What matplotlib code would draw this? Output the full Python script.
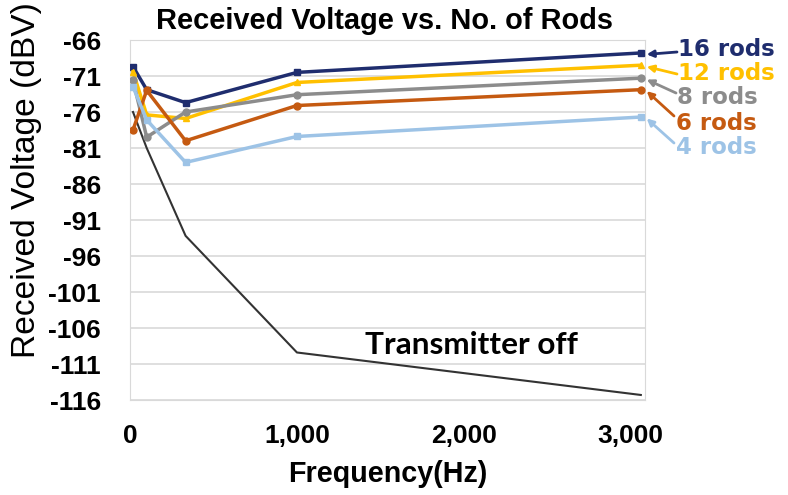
import numpy as np
import matplotlib.pyplot as plt
from matplotlib.ticker import FuncFormatter

plt.rcParams['axes.unicode_minus'] = False

# frequencies (Hz) of the measured points
freq = [18, 100, 333, 1000, 3060]

# received voltage (dBV) per number of rods
rods_16 = [-69.7, -72.9, -74.7, -70.5, -67.8]
rods_12 = [-70.4, -76.4, -76.9, -71.9, -69.5]
rods_8 = [-71.6, -79.5, -76.0, -73.6, -71.3]
rods_6 = [-78.5, -73.0, -80.0, -75.1, -72.9]
rods_4 = [-72.5, -77.1, -83.0, -79.4, -76.7]
tx_off = [-76.0, -81.0, -93.2, -109.4, -115.3]

series_names = ['16 rods', '12 rods', '8 rods', '6 rods', '4 rods']
series_vals = [rods_16, rods_12, rods_8, rods_6, rods_4]
colors = ['#1f2d6e', '#ffc000', '#8c8c8c', '#c55a11', '#9dc3e6']
markers = ['s', '^', 'o', 'o', 's']

yticks = np.arange(-116, -65, 5)
xticks = [0, 1000, 2000, 3000]

W, H = 788, 495
fig = plt.figure(figsize=(W / 100, H / 100), dpi=100)
ax = fig.add_axes([130 / W, 1 - 400 / H, 515 / W, 360 / H])


def fpos(x, y):
    # pixel position (from top-left) -> figure fraction
    return x / W, 1 - y / H


def fit(t, target, dim='w'):
    # scale font so the rendered text spans target pixels
    r = fig.canvas.get_renderer()
    bb = t.get_window_extent(r)
    cur = bb.width if dim == 'w' else bb.height
    t.set_fontsize(t.get_fontsize() * target / cur)


ax.plot(freq, tx_off, color='#333333', lw=1.5, zorder=2)
for name, vals, c, m in zip(series_names, series_vals, colors, markers):
    ax.plot(freq, vals, color=c, lw=2.5, marker=m, markersize=5, zorder=3)

ax.set_xlim(0, 3085)
ax.set_ylim(-116, -66)
ax.set_yticks(yticks)
ax.set_xticks(xticks)
ax.xaxis.set_major_formatter(FuncFormatter(lambda v, p: f'{int(v):,}'))
ax.yaxis.grid(True, color='#d9d9d9', lw=1.2)
ax.set_axisbelow(True)
for s in ax.spines.values():
    s.set_color('#d9d9d9')
ax.tick_params(axis='y', length=0, labelsize=19, pad=21)
ax.tick_params(axis='x', length=0, labelsize=19, pad=17)
for lbl in ax.get_xticklabels() + ax.get_yticklabels():
    lbl.set_fontweight('bold')
    lbl.set_family('Liberation Sans')

title = fig.text(*fpos(384, 21), 'Received Voltage vs. No. of Rods', fontsize=20,
                 fontweight='bold', family='Liberation Sans', ha='center', va='center')
xlab = fig.text(*fpos(388, 474), 'Frequency(Hz)', fontsize=20, fontweight='bold',
                family='Liberation Sans', ha='center', va='center')
ylab = fig.text(*fpos(27, 180), 'Received Voltage (dBV)', fontsize=19, rotation=90,
                family='Liberation Sans', ha='center', va='center')
txoff = fig.text(*fpos(471, 345), 'Transmitter off', fontsize=18, fontweight='bold',
                 family='Lato', ha='center', va='center')
fit(title, 458)
fit(xlab, 200)
fit(ylab, 356, 'h')
fit(txoff, 213)

# right-side labels with arrows
label_pos = [(678, 49), (678, 73), (677, 98), (676, 123), (676, 147)]
tail_pos = [(677, 52), (677, 74), (676, 93), (674, 116), (674, 143)]
for name, vals, c, lp, tp in zip(series_names, series_vals, colors, label_pos, tail_pos):
    fig.text(*fpos(*lp), name, color=c, fontsize=16.5, fontweight='bold',
             family='DejaVu Sans', ha='left', va='center')
    ax.annotate('', xy=(freq[-1] + 35, vals[-1] - 0.2), xycoords='data',
                xytext=fpos(*tp), textcoords='figure fraction', annotation_clip=False,
                arrowprops=dict(arrowstyle='-|>', color=c, lw=2, mutation_scale=10,
                                shrinkA=0, shrinkB=0))

fig.savefig('out.png', dpi=100)
